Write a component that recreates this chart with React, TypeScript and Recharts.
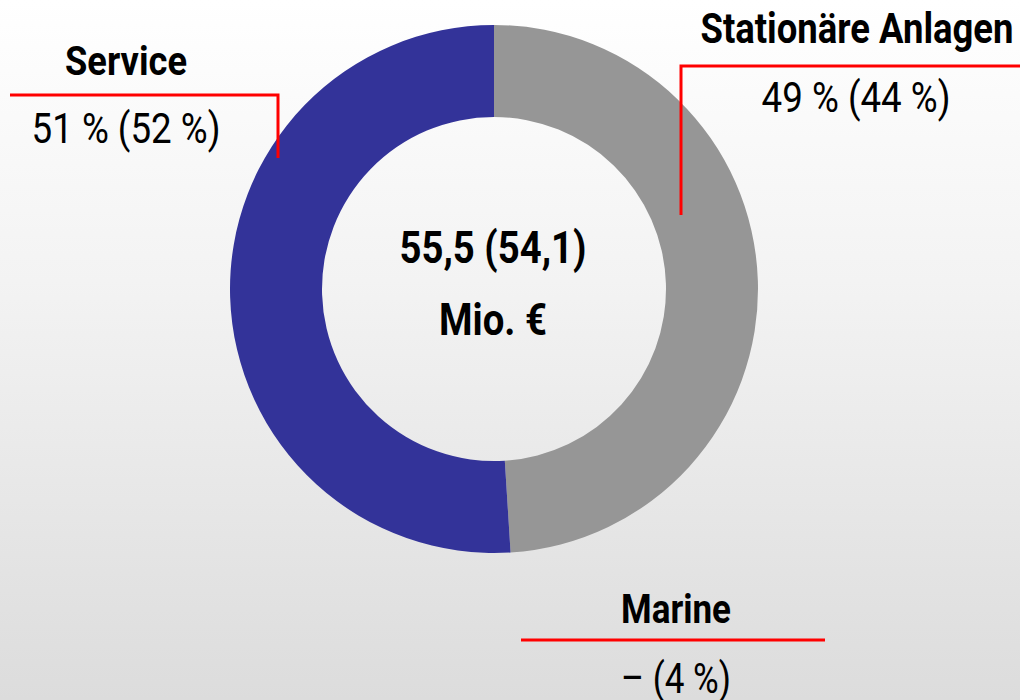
import React from "react";
import { PieChart, Pie, Cell } from "recharts";

const segments = ["Stationäre Anlagen", "Service", "Marine"];
const shareNow = [49, 51, 0];
const sharePrev = [44, 52, 4];
const colors = ["#969696", "#333399", "#ffffff"];
const totalNow = "55,5";
const totalPrev = "54,1";

const data = segments.map((name, i) => ({ name, value: shareNow[i] }));

const FONT = "Roboto, 'Liberation Sans', sans-serif";

const fmt = (v: number) => (v > 0 ? `${v} %` : "–");

// condensed look: squeeze each text to the width seen in the original
const T = ({ x, y, w, size = 41, bold = false, children }: any) => (
  <text
    x={x}
    y={y}
    textAnchor="middle"
    fontSize={size}
    fontWeight={bold ? 700 : 400}
    fill="#000"
    textLength={w}
    lengthAdjust="spacingAndGlyphs"
  >
    {children}
  </text>
);

// drawn in an overlay so the red leader lines sit on top of the ring
const Annotations = () => {
  const red = "#ff0000";
  return (
    <svg
      width={1020}
      height={700}
      style={{ position: "absolute", left: 0, top: 0, pointerEvents: "none", fontFamily: FONT }}
    >
      {/* Service */}
      <polyline points="10,95 278,95 278,158" fill="none" stroke={red} strokeWidth={3} />
      <T x={126} y={75} w={122} bold>{segments[1]}</T>
      <T x={126} y={143} w={189} size={42}>{`${fmt(shareNow[1])} (${sharePrev[1]} %)`}</T>
      {/* Stationäre Anlagen */}
      <polyline points="1020,66 681,66 681,215" fill="none" stroke={red} strokeWidth={3} />
      <T x={857} y={43} w={313} size={42} bold>{segments[0]}</T>
      <T x={856} y={112} w={189} size={43}>{`${fmt(shareNow[0])} (${sharePrev[0]} %)`}</T>
      {/* Marine */}
      <line x1={521} y1={640} x2={825} y2={640} stroke={red} strokeWidth={3} />
      <T x={676} y={623} w={110} bold>{segments[2]}</T>
      <T x={676} y={693} w={110} size={42}>{`${fmt(shareNow[2])} (${sharePrev[2]} %)`}</T>
      {/* centre */}
      <T x={493} y={263} w={187} size={45} bold>{`${totalNow} (${totalPrev})`}</T>
      <T x={493} y={335} w={108} size={45} bold>Mio. €</T>
    </svg>
  );
};

export default function App() {
  return (
    <div
      style={{
        position: "fixed",
        left: 0,
        top: 0,
        width: 1020,
        height: 700,
        background: "linear-gradient(to bottom, #ffffff 0%, #f3f3f3 40%, #dcdcdc 100%)",
      }}
    >
      <PieChart width={1020} height={700} margin={{ top: 0, right: 0, bottom: 0, left: 0 }}>
        <Pie
          data={data}
          dataKey="value"
          nameKey="name"
          cx={494}
          cy={289}
          innerRadius={172}
          outerRadius={264}
          startAngle={90}
          endAngle={-270}
          stroke="none"
          isAnimationActive={false}
        >
          {data.map((d, i) => (
            <Cell key={d.name} fill={colors[i]} />
          ))}
        </Pie>
      </PieChart>
      <Annotations />
    </div>
  );
}
